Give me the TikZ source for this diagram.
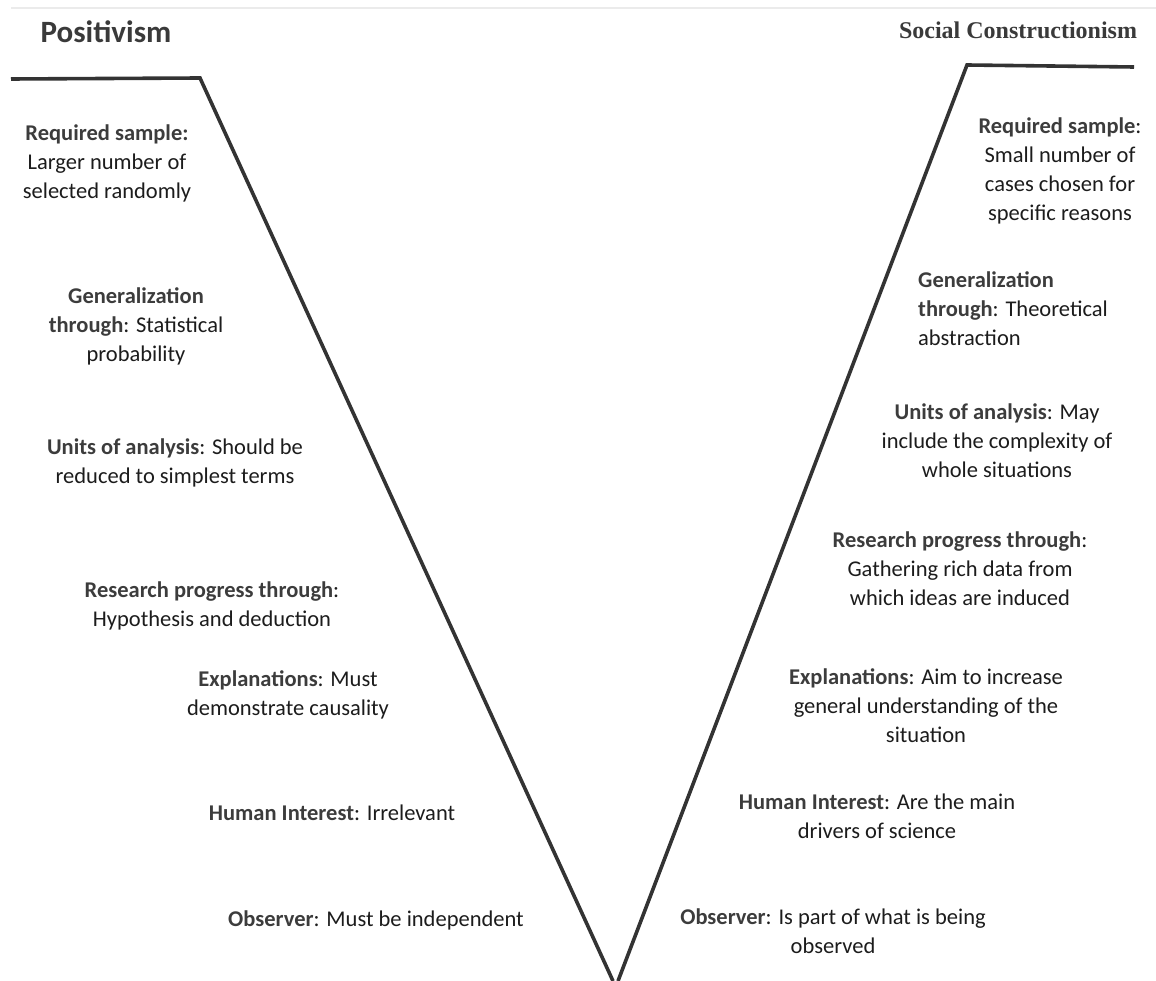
\documentclass[tikz,border=0pt]{standalone}
\usepackage{fontspec}
\setmainfont{Carlito}
\newfontfamily\titleserif{Liberation Serif}
\definecolor{vgray}{HTML}{333333}
\definecolor{rulegray}{HTML}{EBEBEB}
\definecolor{labelgray}{HTML}{3C3C3C}
\definecolor{bodygray}{HTML}{1C1C1C}
\definecolor{titlegray}{HTML}{3A3A3A}
\newcommand\keyterm[1]{\textcolor{labelgray}{\textbf{#1}}}
\begin{document}
\begin{tikzpicture}[x=1pt,y=-1pt,
  vline/.style={draw=vgray,line width=3.6pt,line join=miter},
  item/.style={align=center,inner sep=0pt,text=bodygray,
    font=\fontsize{22.5}{29}\selectfont,
    execute at begin node=\strut,execute at end node=\strut},
  itemleft/.style={item,align=left,anchor=west},
]
\useasboundingbox (0,0) rectangle (1156,981);

% faint rule along the top
\draw[rulegray,line width=1.6pt] (11,8) -- (1156,8);

% the V: positivist arm on the left, constructionist arm on the right
\coordinate (pl) at (11,79);
\coordinate (pk) at (200,78);
\coordinate (pb) at (613,981);
\coordinate (sb) at (618,981);
\coordinate (sk) at (967,65);
\coordinate (sr) at (1134,67);
\draw[vline] (pl) -- (pk) -- (pb);
\draw[vline] (sb) -- (sk) -- (sr);

% headings
\node[anchor=base,inner sep=0pt,text=titlegray,font=\fontsize{31}{36}\selectfont\bfseries]
  (tPos) at (106,43) {Positivism};
\node[anchor=base,inner sep=0pt,text=titlegray,font=\titleserif\fontsize{24}{28}\selectfont\bfseries]
  (tSoc) at (1018,39) {Social Constructionism};

% positivism
\node[item] (pReq) at (107,166) {\keyterm{Required sample:}\\Larger number of\\selected randomly};
\node[item] (pGen) at (136,329) {\keyterm{Generalization}\\\keyterm{through}: Statistical\\probability};
\node[item] (pUnits) at (175,465.5) {\keyterm{Units of analysis}: Should be\\reduced to simplest terms};
\node[item] (pRes) at (212,608.5) {\keyterm{Research progress through}:\\Hypothesis and deduction};
\node[item] (pExp) at (288,697) {\keyterm{Explanations}: Must\\demonstrate causality};
\node[item] (pHum) at (332,815) {\keyterm{Human Interest}: Irrelevant};
\node[item] (pObs) at (376,921) {\keyterm{Observer}: Must be independent};

% social constructionism
\node[item] (sReq) at (1060,173) {\keyterm{Required sample}:\\Small number of\\cases chosen for\\specific reasons};
\node[itemleft] (sGen) at (918,313) {\keyterm{Generalization}\\\keyterm{through}: Theoretical\\abstraction};
\node[item] (sUnits) at (997,445) {\keyterm{Units of analysis}: May\\include the complexity of\\whole situations};
\node[item] (sRes) at (960,573) {\keyterm{Research progress through}:\\Gathering rich data from\\which ideas are induced};
\node[item] (sExp) at (926,710) {\keyterm{Explanations}: Aim to increase\\general understanding of the\\situation};
\node[item] (sHum) at (877,820.5) {\keyterm{Human Interest}: Are the main\\drivers of science};
\node[item] (sObs) at (833,935.5) {\keyterm{Observer}: Is part of what is being\\observed};
\end{tikzpicture}
\end{document}
